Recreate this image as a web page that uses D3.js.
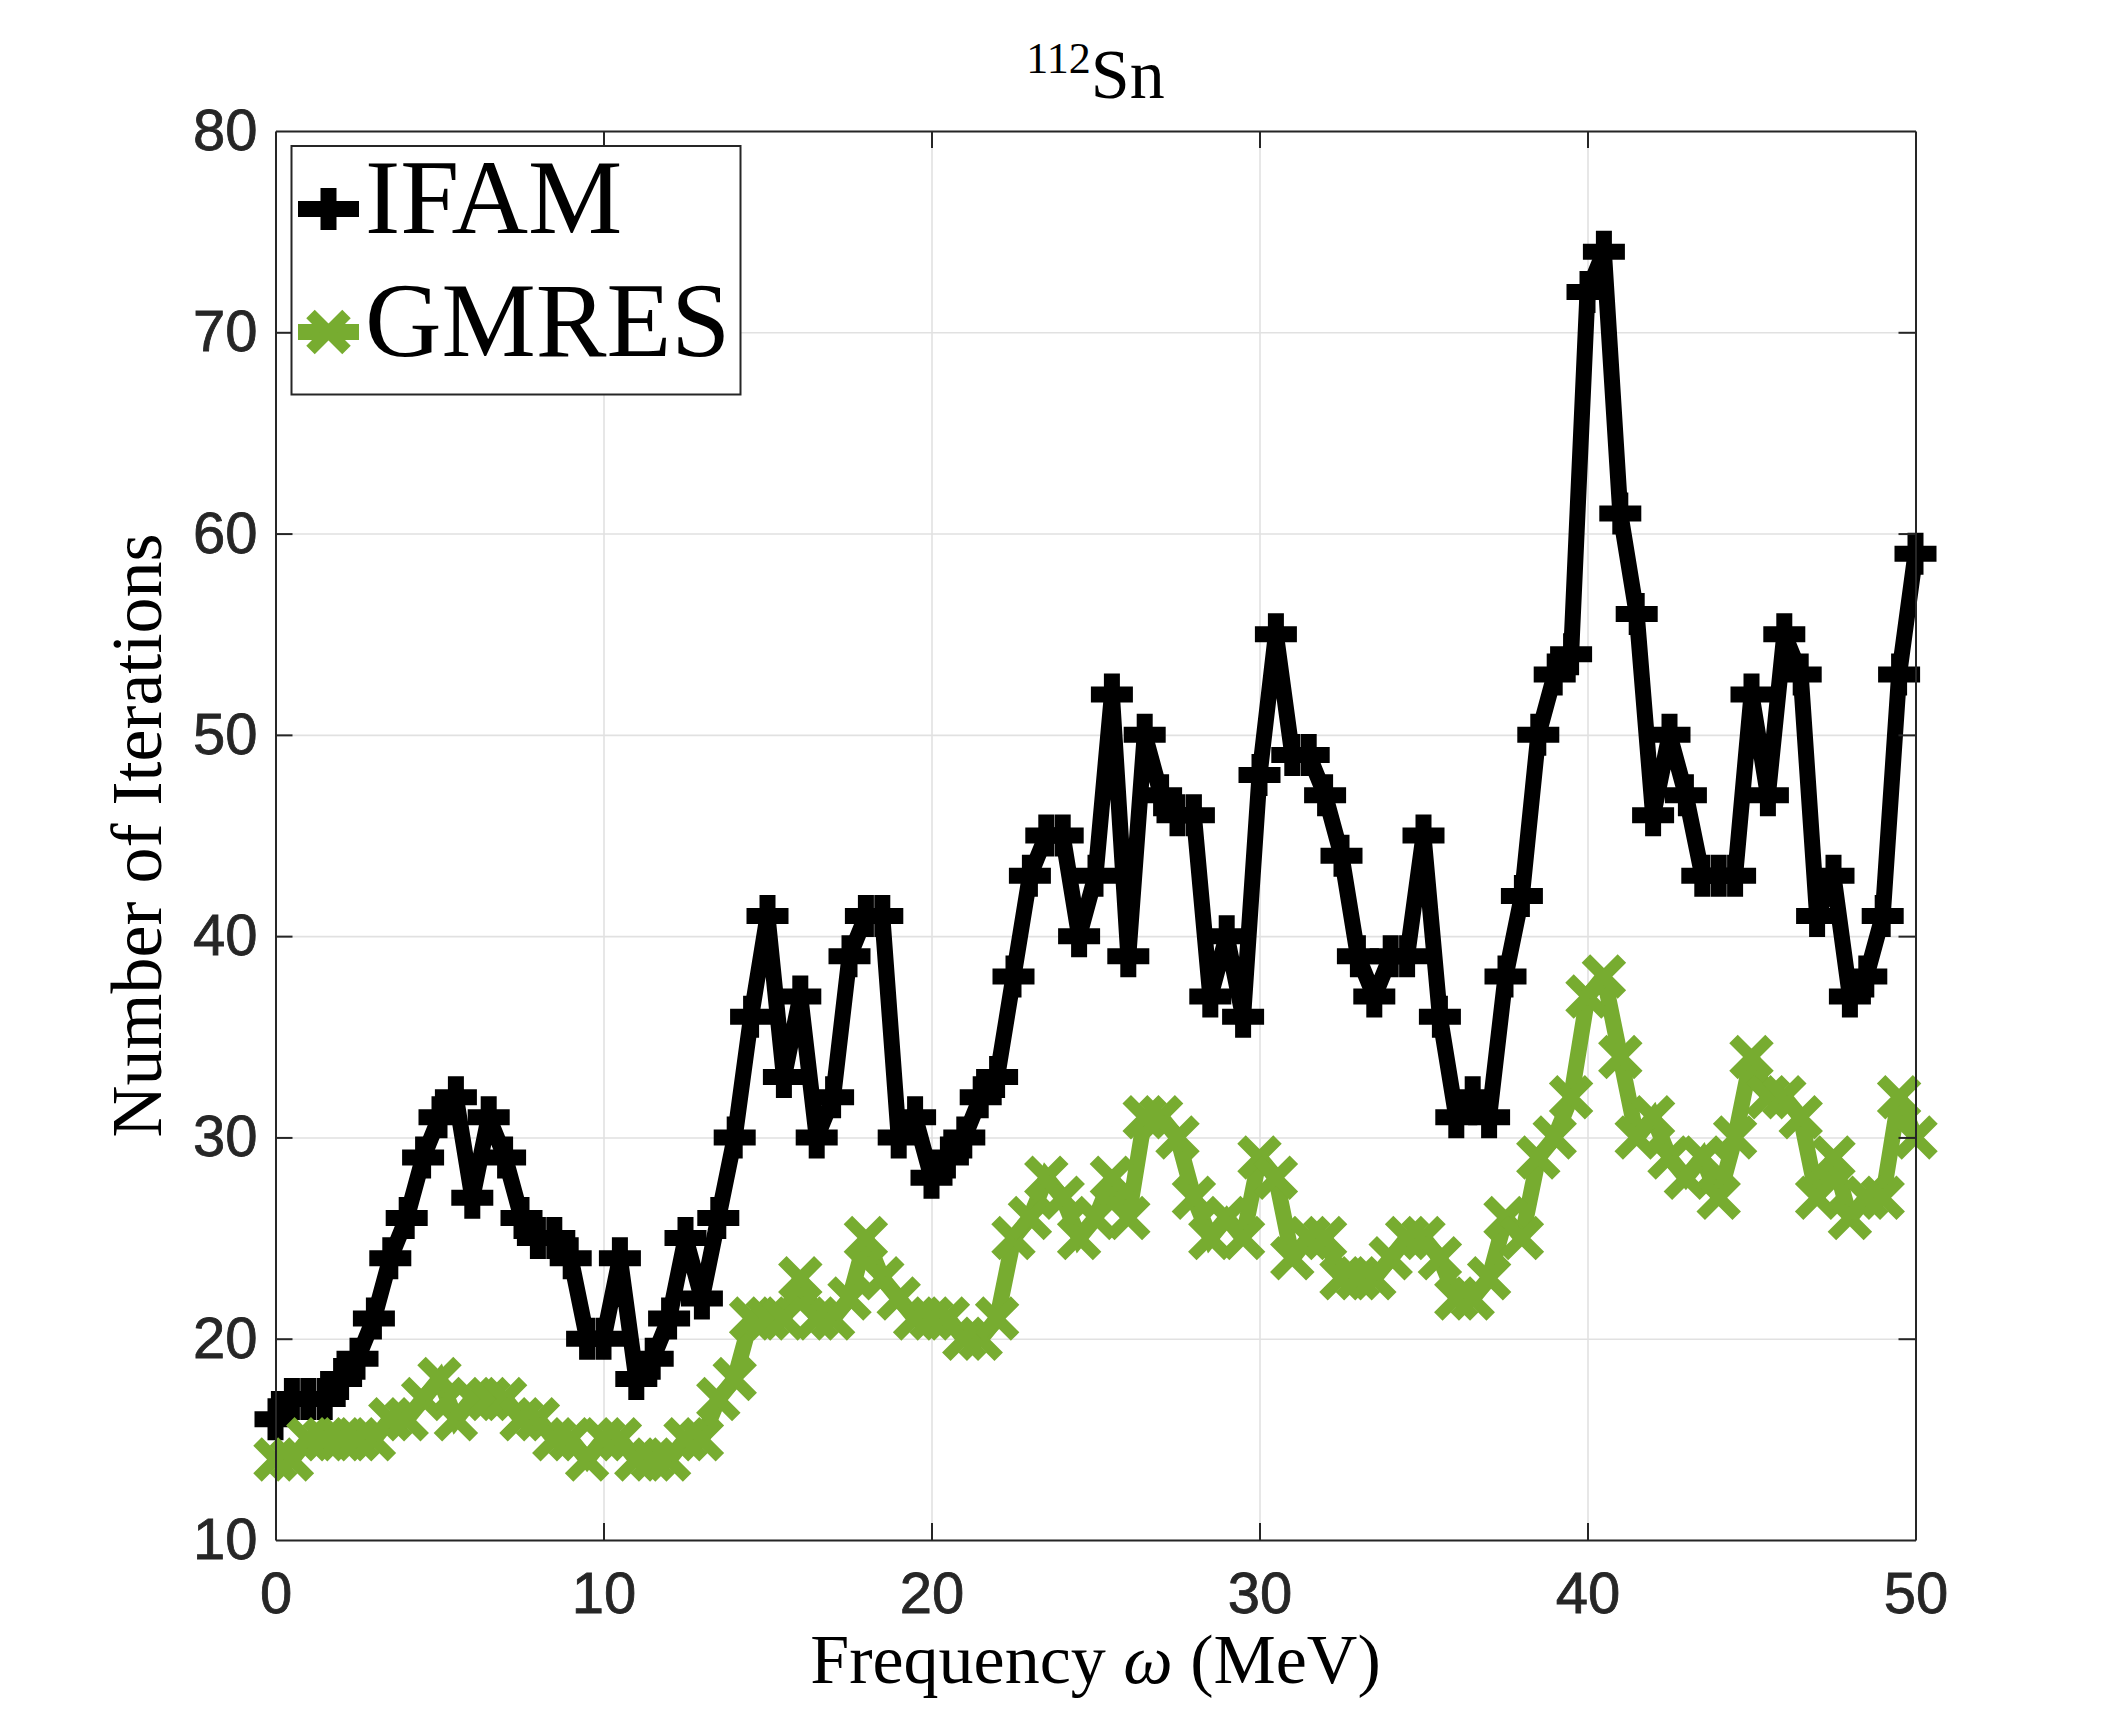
<!DOCTYPE html>
<html>
<head>
<meta charset="utf-8">
<script src="https://cdn.jsdelivr.net/npm/d3@7"></script>
<style>
  body { margin: 0; background: #fff; }
  .tick text { font-family: "Liberation Sans", Arial, sans-serif; fill: #262626; }
  .serif { font-family: "Liberation Serif", "Times New Roman", serif; fill: #000; }
</style>
</head>
<body>
<svg id="chart"></svg>
<script>
// frequencies (MeV) and iteration counts
var freq = [0, 0.5, 1, 1.5, 2, 2.5, 3, 3.5, 4, 4.5,
  5, 5.5, 6, 6.5, 7, 7.5, 8, 8.5, 9, 9.5,
  10, 10.5, 11, 11.5, 12, 12.5, 13, 13.5, 14, 14.5,
  15, 15.5, 16, 16.5, 17, 17.5, 18, 18.5, 19, 19.5,
  20, 20.5, 21, 21.5, 22, 22.5, 23, 23.5, 24, 24.5,
  25, 25.5, 26, 26.5, 27, 27.5, 28, 28.5, 29, 29.5,
  30, 30.5, 31, 31.5, 32, 32.5, 33, 33.5, 34, 34.5,
  35, 35.5, 36, 36.5, 37, 37.5, 38, 38.5, 39, 39.5,
  40, 40.5, 41, 41.5, 42, 42.5, 43, 43.5, 44, 44.5,
  45, 45.5, 46, 46.5, 47, 47.5, 48, 48.5, 49, 49.5,
  50];

var ifamIters = [16, 17, 17, 17, 18, 19, 21, 24, 26, 29,
  31, 32, 27, 31, 29, 26, 25, 25, 24, 20,
  20, 24, 18, 19, 21, 25, 22, 26, 30, 36,
  41, 33, 37, 30, 32, 39, 41, 41, 30, 31,
  28, 29, 30, 32, 33, 38, 43, 45, 45, 40,
  43, 52, 39, 50, 47, 46, 46, 37, 40, 36,
  48, 55, 49, 49, 47, 44, 39, 37, 39, 39,
  45, 36, 31, 32, 31, 38, 42, 50, 53, 54,
  72, 74, 61, 56, 46, 50, 47, 43, 43, 43,
  52, 47, 55, 53, 41, 43, 37, 38, 41, 53,
  59];

var gmresIters = [14, 14, 15, 15, 15, 15, 15, 16, 16, 17,
  18, 16, 17, 17, 17, 16, 16, 15, 15, 14,
  15, 15, 14, 14, 14, 15, 15, 17, 18, 21,
  21, 21, 23, 21, 21, 22, 25, 23, 22, 21,
  21, 21, 20, 20, 21, 25, 26, 28, 27, 25,
  26, 28, 26, 31, 31, 30, 27, 25, 26, 25,
  29, 28, 24, 25, 25, 23, 23, 23, 24, 25,
  25, 24, 22, 22, 23, 26, 25, 29, 30, 32,
  37, 38, 34, 30, 31, 29, 28, 29, 27, 30,
  34, 32, 32, 31, 27, 29, 26, 27, 27, 32,
  30];

var seriesNames = ['IFAM', 'GMRES'];
var xTicks = [0, 10, 20, 30, 40, 50];
var yTicks = [10, 20, 30, 40, 50, 60, 70, 80];

var W = 2118, H = 1730;
var margin = {top: 131, right: 202.5, bottom: 190, left: 275.5},
  width = W - margin.left - margin.right,
  height = H - margin.top - margin.bottom;

var x = d3.scaleLinear().domain([0, 50]).range([0, width]);
var y = d3.scaleLinear().domain([10, 80]).range([height, 0]);

var svg = d3.select('#chart').attr('width', W).attr('height', H);
svg.append('rect').attr('width', W).attr('height', H).attr('fill', '#fff');

var g = svg.append('g')
  .attr('transform', 'translate(' + margin.left + ',' + margin.top + ')');

// grid
g.append('g')
  .attr('class', 'grid')
  .attr('transform', 'translate(0,' + height + ')')
  .call(d3.axisBottom(x).tickValues(xTicks).tickSize(-height).tickFormat(''))
  .call(function(s) { s.select('.domain').remove(); });
g.append('g')
  .attr('class', 'grid')
  .call(d3.axisLeft(y).tickValues(yTicks).tickSize(-width).tickFormat(''))
  .call(function(s) { s.select('.domain').remove(); });
g.selectAll('.grid line').attr('stroke', '#e1e1e1').attr('stroke-width', 1.6);

// series
var colors = {IFAM: '#000000', GMRES: '#77ac30'};
var seriesData = {IFAM: ifamIters, GMRES: gmresIters};
var plusPath = 'M-21,0H21M0,-21V21';
var crossPath = 'M-18,-18L18,18M-18,18L18,-18';
var markerPaths = {IFAM: plusPath, GMRES: crossPath};
var markerWidths = {IFAM: 16, GMRES: 12};

var line = d3.line()
  .x(function(d) { return x(d[0]); })
  .y(function(d) { return y(d[1]); });

seriesNames.forEach(function(name) {
  var pts = freq.map(function(f, i) { return [f, seriesData[name][i]]; });
  g.append('path')
    .datum(pts)
    .attr('d', line)
    .attr('fill', 'none')
    .attr('stroke', colors[name])
    .attr('stroke-width', 16)
    .attr('stroke-linejoin', 'miter')
    .attr('stroke-miterlimit', 2);
  g.selectAll('.mk-' + name)
    .data(pts)
    .enter().append('path')
    .attr('class', 'mk-' + name)
    .attr('transform', function(d) { return 'translate(' + x(d[0]) + ',' + y(d[1]) + ')'; })
    .attr('d', markerPaths[name])
    .attr('fill', 'none')
    .attr('stroke', colors[name])
    .attr('stroke-width', markerWidths[name]);
});

// axes (box with inward ticks)
var axisColor = '#262626';
var xAxis = g.append('g')
  .attr('transform', 'translate(0,' + height + ')')
  .call(d3.axisBottom(x).tickValues(xTicks).tickSizeInner(-17).tickSizeOuter(0).tickPadding(32));
var yAxis = g.append('g')
  .call(d3.axisLeft(y).tickValues(yTicks).tickSizeInner(-17).tickSizeOuter(0).tickPadding(18));
var topAxis = g.append('g')
  .call(d3.axisTop(x).tickValues(xTicks).tickSizeInner(-17).tickSizeOuter(0).tickFormat(''));
var rightAxis = g.append('g')
  .attr('transform', 'translate(' + width + ',0)')
  .call(d3.axisRight(y).tickValues(yTicks).tickSizeInner(-17).tickSizeOuter(0).tickFormat(''));

[xAxis, yAxis, topAxis, rightAxis].forEach(function(a) {
  a.select('.domain').attr('stroke', axisColor).attr('stroke-width', 2);
  a.selectAll('.tick line').attr('stroke', axisColor).attr('stroke-width', 2);
  a.selectAll('.tick text').attr('font-size', 58).attr('fill', axisColor)
    .attr('stroke', axisColor).attr('stroke-width', 0.8);
});
// no tick marks at the box corners
xAxis.selectAll('.tick').filter(function(d) { return d === 0 || d === 50; }).select('line').remove();
topAxis.selectAll('.tick').filter(function(d) { return d === 0 || d === 50; }).select('line').remove();
yAxis.selectAll('.tick').filter(function(d) { return d === 10 || d === 80; }).select('line').remove();
rightAxis.selectAll('.tick').filter(function(d) { return d === 10 || d === 80; }).select('line').remove();

// title
var title = svg.append('text')
  .attr('class', 'serif')
  .attr('x', margin.left + width / 2)
  .attr('y', 98)
  .attr('text-anchor', 'middle');
title.append('tspan').attr('font-size', 44).attr('dy', -25).text('112');
title.append('tspan').attr('font-size', 70).attr('dy', 25).text('Sn');

// axis labels
var xl = svg.append('text')
  .attr('class', 'serif')
  .attr('x', margin.left + width / 2)
  .attr('y', 1683)
  .attr('text-anchor', 'middle')
  .attr('font-size', 70);
xl.append('tspan').text('Frequency ');
xl.append('tspan').attr('font-style', 'italic').text('ω');
xl.append('tspan').text(' (MeV)');

svg.append('text')
  .attr('class', 'serif')
  .attr('transform', 'translate(161,' + (margin.top + height / 2) + ') rotate(-90)')
  .attr('text-anchor', 'middle')
  .attr('font-size', 72)
  .text('Number of Iterations');

// legend
var legend = svg.append('g');
legend.append('rect')
  .attr('x', 291.5).attr('y', 146)
  .attr('width', 449).attr('height', 248.5)
  .attr('fill', '#fff')
  .attr('stroke', axisColor)
  .attr('stroke-width', 2);

var legendRows = [{name: 'IFAM', cy: 209, base: 233}, {name: 'GMRES', cy: 332, base: 356}];
legendRows.forEach(function(r) {
  legend.append('line')
    .attr('x1', 298).attr('x2', 359)
    .attr('y1', r.cy).attr('y2', r.cy)
    .attr('stroke', colors[r.name]).attr('stroke-width', 16);
  legend.append('path')
    .attr('transform', 'translate(328.5,' + r.cy + ')')
    .attr('d', markerPaths[r.name])
    .attr('fill', 'none')
    .attr('stroke', colors[r.name])
    .attr('stroke-width', markerWidths[r.name]);
  legend.append('text')
    .attr('class', 'serif')
    .attr('x', 365).attr('y', r.base)
    .attr('font-size', 106)
    .text(r.name);
});
</script>
</body>
</html>
